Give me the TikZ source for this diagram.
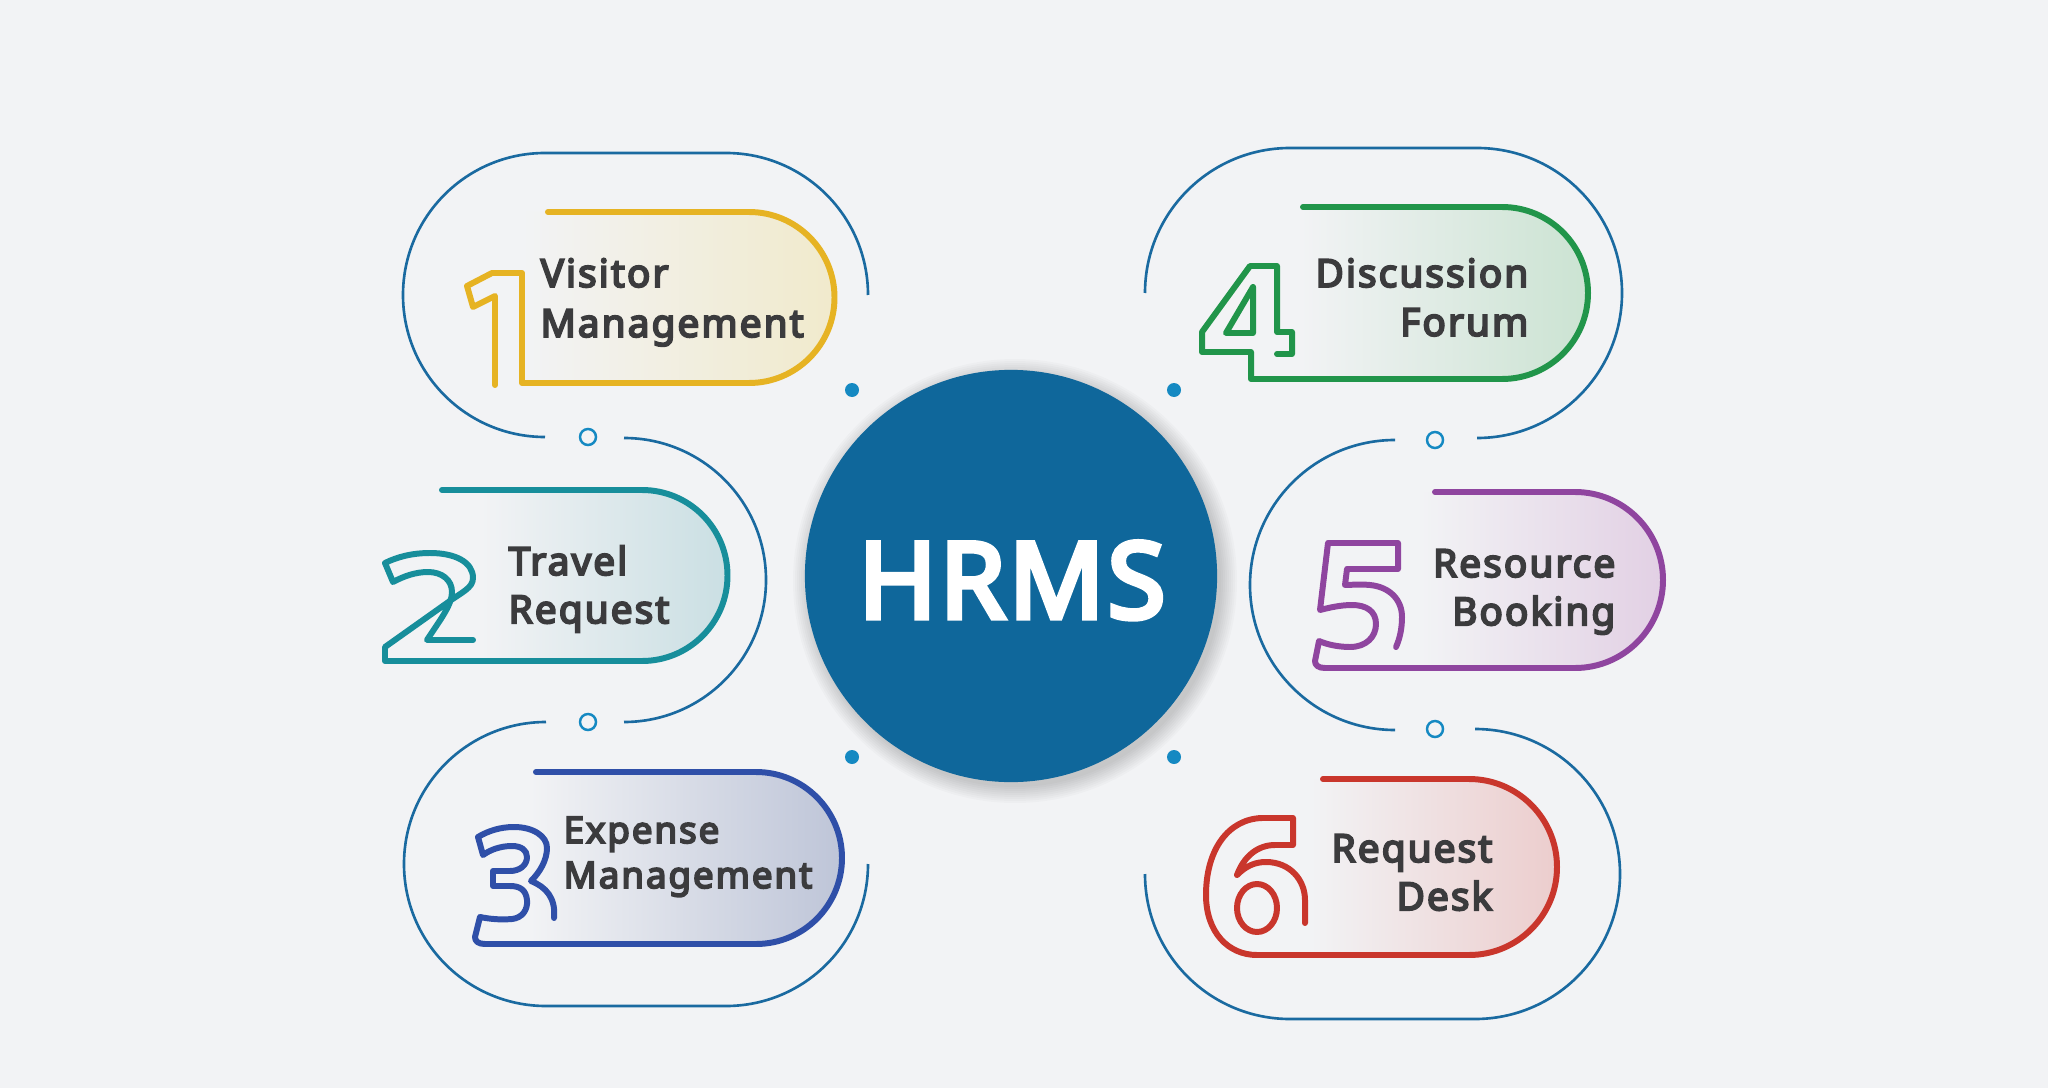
\documentclass[tikz,border=0pt]{standalone}
\usepackage{fontspec}
\setmainfont{Noto Sans}
\newfontfamily\lblfont{Noto Sans}[FakeBold=5, LetterSpace=5.5]
\newfontfamily\hubfont{Noto Sans}[FakeBold=5, LetterSpace=3]
\definecolor{bg}{HTML}{F2F3F5}
\definecolor{outl}{HTML}{1A6AA0}
\definecolor{ringc}{HTML}{1589C2}
\definecolor{hub}{HTML}{0F679B}
\definecolor{txt}{HTML}{3B3B3D}
\definecolor{cA}{HTML}{E6B323}\definecolor{tA}{HTML}{F1EACC}
\definecolor{cB}{HTML}{178E9B}\definecolor{tB}{HTML}{CADFE3}
\definecolor{cC}{HTML}{2F4FA8}\definecolor{tC}{HTML}{BEC5D8}
\definecolor{cD}{HTML}{21954A}\definecolor{tD}{HTML}{CBE3D2}
\definecolor{cE}{HTML}{8F459F}\definecolor{tE}{HTML}{E2D0E4}
\definecolor{cF}{HTML}{C9362C}\definecolor{tF}{HTML}{ECCDCD}
\tikzset{
  outline/.style={draw=outl, line width=0.75pt},
  ringmark/.style={draw=ringc, line width=0.7pt},
  dotmark/.style={fill=ringc},
  pillline/.style={line width=1.7pt, line cap=round, line join=round},
  lbl/.style={inner sep=0pt, text=txt},
}
\newcommand{\lblL}[3]{{\lblfont\fontsize{#1}{#2}\selectfont\begin{tabular}[t]{@{}l@{}}#3\end{tabular}}}
\newcommand{\lblR}[3]{{\lblfont\fontsize{#1}{#2}\selectfont\begin{tabular}[t]{@{}r@{}}#3\end{tabular}}}
\begin{document}
\begin{tikzpicture}[x=0.01cm, y=-0.01cm]
\path[use as bounding box, fill=bg] (0,0) rectangle (2048,1088);

% ---- thin blue outlines ----
\draw[outline] (545,437) arc[start angle=90, end angle=270, radius=142] -- (726,153)
  arc[start angle=270, end angle=360, radius=142];
\draw[outline] (624,438) arc[start angle=-90, end angle=90, radius=142];
\draw[outline] (546,722) arc[start angle=270, end angle=90, radius=142] -- (726,1006)
  arc[start angle=90, end angle=0, radius=142];
\draw[outline] (1145,293) arc[start angle=180, end angle=270, radius=145] -- (1477,148)
  arc[start angle=-90, end angle=90, radius=145];
\draw[outline] (1395,440) arc[start angle=270, end angle=90, radius=145];
\draw[outline] (1475,729) arc[start angle=-90, end angle=90, radius=145] -- (1290,1019)
  arc[start angle=90, end angle=180, radius=145];

% rings and dots
\draw[ringmark] (588,437) circle[radius=8];
\draw[ringmark] (588,722) circle[radius=8];
\draw[ringmark] (1435,440) circle[radius=8];
\draw[ringmark] (1435,729) circle[radius=8];
\fill[dotmark] (852,390) circle[radius=7];
\fill[dotmark] (1174,390) circle[radius=7];
\fill[dotmark] (852,757) circle[radius=7];
\fill[dotmark] (1174,757) circle[radius=7];

% ---- central hub with shadow ----
\foreach \r in {206,208,...,222} {
  \fill[black, opacity=0.018] (1015,581) circle[radius=\r];
}
\node[circle, fill=hub, minimum size=4.12cm, inner sep=0pt] (hrms) at (1011,576) {};
\node[anchor=base, text=white, inner sep=0pt, font=\hubfont\fontsize{30}{36}\selectfont] (hrmstext) at (1012,618) {HRMS};

% ---- pill 1 ----
\shade[left color=bg, right color=tA] (522,212) -- (749,212) arc[start angle=-90, end angle=90, radius=85.5] -- (522,383) -- cycle;
\draw[pillline, draw=cA] (495,385) -- (495,296) -- (473,307) -- (467,286) -- (492,273) -- (522,273) -- (522,383)
  -- (749,383) arc[start angle=90, end angle=-90, radius=85.5] -- (548,212);
\node[lbl, anchor=base west] (l1) at (540,287) {\lblL{11}{14.2}{Visitor\\Management}};

% ---- pill 2 ----
\shade[left color=bg, right color=tB] (480,490) -- (642,490) arc[start angle=-90, end angle=90, radius=85.5] -- (480,661) -- cycle;
\draw[pillline, draw=cB] (442,490) -- (642,490) arc[start angle=-90, end angle=90, radius=85.5] -- (385,661) -- (385,647)
  -- (447,603) .. controls (462,592) and (473,588) .. (473,578)
  .. controls (473,562) and (455,553) .. (430,553)
  .. controls (412,553) and (397,557) .. (385,563) -- (393,582)
  .. controls (404,576) and (416,572) .. (428,572)
  .. controls (442,572) and (452,580) .. (452,592)
  .. controls (452,605) and (440,620) .. (427,640) -- (473,640);
\node[lbl, anchor=base west] (l2) at (508,575) {\lblL{11}{13.7}{Travel\\Request}};

% ---- pill 3 ----
\shade[left color=bg, right color=tC] (530,772) -- (756,772) arc[start angle=-90, end angle=90, radius=86] -- (530,944) -- cycle;
\draw[pillline, draw=cC] (536,772) -- (756,772) arc[start angle=-90, end angle=90, radius=86] -- (485,944)
  .. controls (478,944) and (475,941) .. (475,937) -- (480,917)
  .. controls (490,919) and (500,920) .. (512,919)
  .. controls (522,918) and (528,910) .. (527,900)
  .. controls (526,890) and (520,886) .. (510,886)
  -- (493,886) -- (493,871) -- (510,871)
  .. controls (520,871) and (527,865) .. (527,857)
  .. controls (527,850) and (521,846) .. (512,846)
  .. controls (500,846) and (490,850) .. (483,855)
  -- (478,837)
  .. controls (488,831) and (500,827) .. (514,827)
  .. controls (533,827) and (547,836) .. (547,848)
  .. controls (547,860) and (540,872) .. (531,881)
  .. controls (546,887) and (556,898) .. (554,918);
\node[lbl, anchor=base west] (l3) at (563,843) {\lblL{10.4}{12.8}{Expense\\Management}};

% ---- pill 4 ----
\shade[left color=bg, right color=tD] (1300,207) -- (1502,207) arc[start angle=-90, end angle=90, radius=86] -- (1300,379) -- cycle;
\draw[pillline, draw=cD] (1303,207) -- (1502,207) arc[start angle=-90, end angle=90, radius=86] -- (1251,379)
  -- (1251,352) -- (1202,352) -- (1202,332) -- (1250,266) -- (1277,266) -- (1277,332)
  -- (1292,332) -- (1292,354) -- (1277,354);
\draw[pillline, draw=cD] (1226,333) -- (1253,287) -- (1253,333) -- cycle;
\node[lbl, anchor=base east] (l4) at (1529,287) {\lblR{11}{13.9}{Discussion\\Forum}};

% ---- pill 5 ----
\shade[left color=bg, right color=tE] (1420,492) -- (1575,492) arc[start angle=-90, end angle=90, radius=88] -- (1420,668) -- cycle;
\draw[pillline, draw=cE] (1435,492) -- (1575,492) arc[start angle=-90, end angle=90, radius=88] -- (1325,668)
  .. controls (1318,668) and (1315,665) .. (1315,661) -- (1319,641)
  .. controls (1328,645) and (1340,647) .. (1350,647)
  .. controls (1366,647) and (1376,637) .. (1376,624)
  .. controls (1376,611) and (1366,605) .. (1352,605)
  .. controls (1340,605) and (1328,608) .. (1320,610)
  -- (1328,543) -- (1398,543) -- (1398,569) -- (1347,569) -- (1345,585)
  .. controls (1350,585) and (1360,584) .. (1370,585)
  .. controls (1390,587) and (1402,600) .. (1402,617)
  .. controls (1402,628) and (1400,638) .. (1396,647);
\node[lbl, anchor=base east] (l5) at (1616,577) {\lblR{11}{13.7}{Resource\\Booking}};

% ---- pill 6 ----
\shade[left color=bg, right color=tF] (1310,779) -- (1469,779) arc[start angle=-90, end angle=90, radius=88] -- (1310,955) -- cycle;
\draw[pillline, draw=cF] (1323,779) -- (1469,779) arc[start angle=-90, end angle=90, radius=88] -- (1257,955)
  .. controls (1228,955) and (1206,932) .. (1206,895)
  .. controls (1206,850) and (1228,819) .. (1262,818)
  -- (1293,818) -- (1293,845) -- (1275,845)
  .. controls (1258,845) and (1244,856) .. (1237,875)
  .. controls (1246,866) and (1255,862) .. (1266,862)
  .. controls (1290,862) and (1305,880) .. (1305,900) -- (1305,923);
\draw[pillline, draw=cF] (1257,908) ellipse[x radius=20, y radius=24];
\node[lbl, anchor=base east] (l6) at (1493,862) {\lblR{11}{13.7}{Request\\Desk}};
\end{tikzpicture}
\end{document}
